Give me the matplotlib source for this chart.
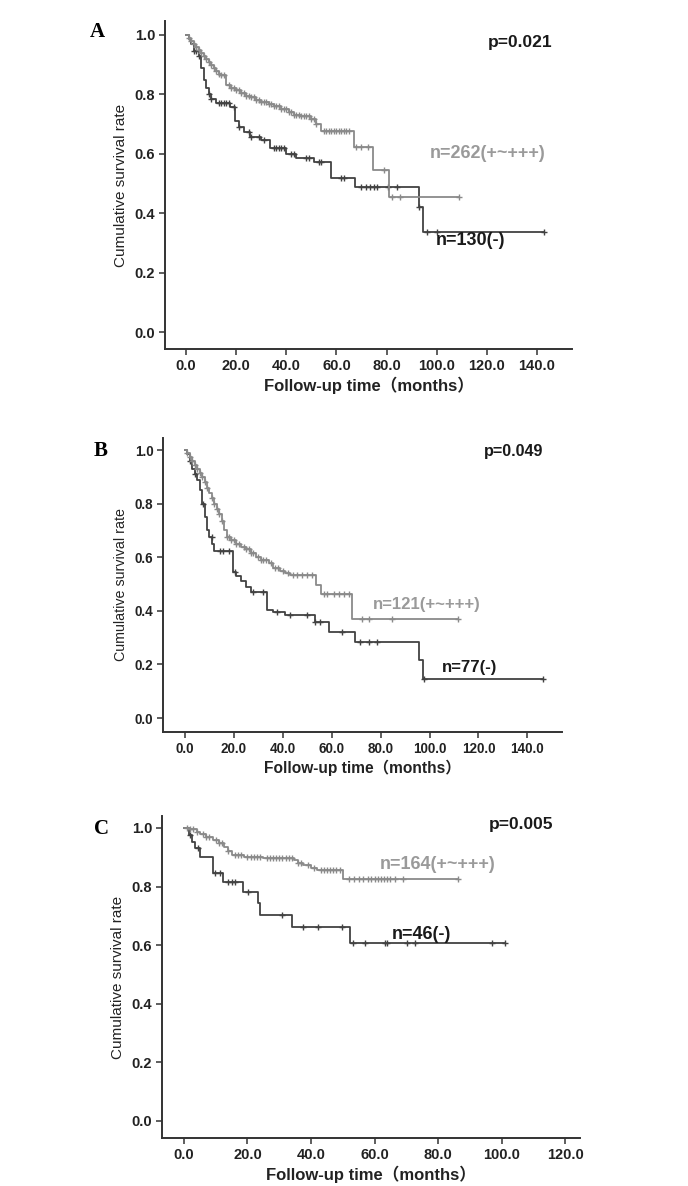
import numpy as np
import matplotlib
matplotlib.use("Agg")
import matplotlib.pyplot as plt
from matplotlib.ticker import FormatStrFormatter

plt.rcParams['font.family'] = ['Liberation Sans', 'Noto Sans CJK SC']

# ---- Panel A: KM steps (time in months, survival after the step) ----
a_hi_t = [0, 1, 2, 3, 4, 5, 6, 7, 8, 9, 10, 11, 12, 13, 14, 16, 18, 20, 22, 24, 26, 28, 30, 33, 35, 38,
          41, 43, 46, 50, 52, 54, 67, 74.5, 81]
a_hi_s = [1.0, 0.99, 0.98, 0.97, 0.96, 0.95, 0.94, 0.93, 0.92, 0.91, 0.90, 0.89, 0.88, 0.87, 0.865, 0.83,
          0.822, 0.815, 0.805, 0.795, 0.79, 0.782, 0.775, 0.768, 0.762, 0.75, 0.74, 0.732, 0.727, 0.718,
          0.70, 0.678, 0.624, 0.545, 0.455]
a_hi_end = 109
a_hi_cens = [1, 2, 3, 4, 5, 6, 7, 8, 9, 10, 11, 12, 13, 14, 15, 17, 18, 19, 20, 21, 22, 23, 24, 25, 26, 27,
             28, 29, 30, 31, 32, 33, 34, 35, 36, 37, 38, 39, 40, 41, 42, 43, 44, 45, 46, 47, 48, 49, 50, 51,
             52, 55, 56, 57, 58, 59, 60, 61, 62, 63, 64, 65, 68, 70, 72.5, 78.8, 82, 85.5, 109]

a_lo_t = [0, 1, 2, 3, 5, 6, 7, 8, 9, 10, 12, 17.5, 19.5, 21, 23, 25.5, 30, 33.5, 40, 44, 51, 58, 67.5,
          93, 94.5]
a_lo_s = [1.0, 0.985, 0.97, 0.945, 0.93, 0.89, 0.85, 0.82, 0.80, 0.785, 0.77, 0.758, 0.71, 0.69, 0.674,
          0.658, 0.646, 0.618, 0.60, 0.585, 0.572, 0.517, 0.489, 0.42, 0.336]
a_lo_end = 142.7
a_lo_cens = [3, 4, 5, 9, 10, 13, 14, 15, 16, 17, 19, 21, 25, 26, 29, 31, 35, 36, 37, 38, 39, 42, 43, 48, 49,
             53, 54, 62, 63, 70, 72, 73.5, 75, 76, 80.6, 84, 93.1, 96, 100, 142.7]

# ---- Panel B ----
b_hi_t = [0, 1, 2, 3, 4, 5, 6, 7, 8, 9, 10, 11, 12, 13, 14, 15, 16, 17, 19, 21, 23, 25, 27, 29, 31, 34.5,
          36, 39, 41, 43, 53.5, 55.5, 68.5]
b_hi_s = [1.0, 0.99, 0.975, 0.96, 0.945, 0.93, 0.915, 0.90, 0.88, 0.86, 0.84, 0.82, 0.80, 0.78, 0.76,
          0.735, 0.70, 0.677, 0.665, 0.65, 0.64, 0.63, 0.615, 0.60, 0.59, 0.578, 0.56, 0.55, 0.54, 0.534,
          0.496, 0.463, 0.369]
b_hi_end = 111.8
b_hi_cens = [1, 2, 3, 4, 5, 6, 7, 8, 9, 11, 12, 13, 14, 15, 17, 18, 19, 20, 21, 22, 24, 25, 26, 27, 28, 30,
             31, 32, 33, 35, 37, 38, 40, 42, 44, 46, 48, 50, 52, 57, 58, 60.8, 62.8, 64.9, 66.9, 72.4, 75.1,
             84.7, 111.8]

b_lo_t = [0, 1, 2, 3, 4, 5, 6, 7, 8, 9, 10, 11, 12, 19.5, 21, 23, 25, 27, 33.5, 36, 41, 53, 59, 69.5,
          95.8, 97.2]
b_lo_s = [1.0, 0.985, 0.96, 0.93, 0.91, 0.89, 0.85, 0.80, 0.75, 0.70, 0.675, 0.65, 0.622, 0.546, 0.53,
          0.51, 0.49, 0.472, 0.403, 0.395, 0.384, 0.357, 0.322, 0.285, 0.216, 0.144]
b_lo_end = 146.5
b_lo_cens = [2, 4, 7.5, 10.9, 14.3, 15.7, 17.8, 20.5, 28, 31.8, 37.6, 43, 49.9, 53.3, 55.3, 64.2, 71.7,
             75.1, 78.5, 97.9, 146.5]

# ---- Panel C ----
c_hi_t = [0, 2, 4, 5, 7, 9, 11, 12.5, 14, 15, 19, 25, 34.5, 36, 37.5, 40, 42, 50]
c_hi_s = [1.0, 0.995, 0.985, 0.978, 0.968, 0.958, 0.948, 0.936, 0.922, 0.908, 0.902, 0.897, 0.89, 0.882,
          0.874, 0.865, 0.857, 0.825]
c_hi_end = 86.4
c_hi_cens = [1, 2, 3, 4, 6, 7, 8, 10, 11, 12, 14, 16, 17, 18, 20, 21, 22, 23, 24, 26, 27, 28, 29, 30, 31,
             32, 33, 34, 36, 37, 39, 41, 43, 44, 45, 46, 47, 48, 49, 52, 53.5, 55, 56.5, 58, 59, 60, 61, 62,
             63, 64, 65, 66.5, 69, 86.4]

c_lo_t = [0, 1.5, 2.5, 3.5, 5, 9.2, 12.4, 18.7, 23.4, 23.9, 33.9, 52.3]
c_lo_s = [1.0, 0.976, 0.953, 0.93, 0.902, 0.848, 0.817, 0.783, 0.743, 0.703, 0.663, 0.606]
c_lo_end = 101.1
c_lo_cens = [2, 4.5, 9.8, 11.3, 14, 15, 16.1, 20.3, 30.8, 37.6, 42.3, 49.7, 53.3, 57, 63.3, 63.8, 70.1,
             72.8, 96.9, 101.1]

p_values = ["p=0.021", "p=0.049", "p=0.005"]
hi_labels = ["n=262(+~+++)", "n=121(+~+++)", "n=164(+~+++)"]
lo_labels = ["n=130(-)", "n=77(-)", "n=46(-)"]
panel_letters = ["A", "B", "C"]

GRAY = '#8a8a8a'
DARK = '#424242'


def km_line(ax, t, s, t_end, cens, color):
    tt = np.asarray(t + [t_end], dtype=float)
    ss = np.asarray(s + [s[-1]], dtype=float)
    ax.step(tt, ss, where='post', color=color, lw=1.3)
    c = np.asarray(cens, dtype=float)
    idx = np.searchsorted(tt, c, side='right') - 1
    ax.plot(c, ss[idx], ls='none', marker='+', ms=5, mew=1.0, color=color)


fig = plt.figure(figsize=(6.88, 11.86), dpi=100)

# axes rects in figure fraction, x/y limits per panel
rects = [[0.2398, 0.7057, 0.5916, 0.2766],
         [0.2369, 0.3828, 0.5800, 0.2479],
         [0.2355, 0.0405, 0.6076, 0.2715]]
xlims = [(-8.4, 154), (-9.0, 154.2), (-6.9, 124.7)]
ylims = [(-0.057, 1.047), (-0.052, 1.045), (-0.058, 1.041)]
xtick_max = [140, 140, 120]
fscale = [1.0, 0.93, 1.0]
p_pos = [(146.1, 0.976), (146.4, 0.996), (116.2, 1.013)]
hi_pos = [(97.4, 0.60), (76.9, 0.425), (61.7, 0.877)]
lo_pos = [(99.8, 0.307), (105.1, 0.19), (65.4, 0.638)]
letter_pos = [(0.142, 0.973), (0.146, 0.620), (0.148, 0.301)]

curves = [
    ((a_hi_t, a_hi_s, a_hi_end, a_hi_cens), (a_lo_t, a_lo_s, a_lo_end, a_lo_cens)),
    ((b_hi_t, b_hi_s, b_hi_end, b_hi_cens), (b_lo_t, b_lo_s, b_lo_end, b_lo_cens)),
    ((c_hi_t, c_hi_s, c_hi_end, c_hi_cens), (c_lo_t, c_lo_s, c_lo_end, c_lo_cens)),
]

for i in range(3):
    ax = fig.add_axes(rects[i])
    fs = fscale[i]
    hi, lo = curves[i]
    km_line(ax, *lo, DARK)
    km_line(ax, *hi, GRAY)

    ax.set_xlim(*xlims[i])
    ax.set_ylim(*ylims[i])
    ax.set_xticks(np.arange(0, xtick_max[i] + 1, 20))
    ax.set_yticks(np.arange(0, 1.01, 0.2))
    ax.xaxis.set_major_formatter(FormatStrFormatter('%.1f'))
    ax.yaxis.set_major_formatter(FormatStrFormatter('%.1f'))
    for side in ['top', 'right']:
        ax.spines[side].set_visible(False)
    for side in ['left', 'bottom']:
        ax.spines[side].set_linewidth(1.4)
        ax.spines[side].set_color('#333333')
    ax.tick_params(direction='out', length=4, width=1.1, color='#333333',
                   labelsize=10.5 * fs, labelcolor='#222222', pad=3)
    for lab in ax.get_xticklabels() + ax.get_yticklabels():
        lab.set_fontweight('bold')

    ax.set_xlabel("Follow-up time（months）", fontsize=12 * fs, fontweight='bold',
                  color='#222222', labelpad=3)
    ax.set_ylabel("Cumulative survival rate", fontsize=11 * fs, color='#222222', labelpad=5)

    ax.text(*p_pos[i], p_values[i], ha='right', va='center', fontsize=12.5 * fs,
            fontweight='bold', color='#1a1a1a')
    ax.text(*hi_pos[i], hi_labels[i], ha='left', va='center', fontsize=13 * fs,
            fontweight='bold', color='#9a9a9a')
    ax.text(*lo_pos[i], lo_labels[i], ha='left', va='center', fontsize=13 * fs,
            fontweight='bold', color='#1a1a1a')

    fig.text(*letter_pos[i], panel_letters[i], ha='center', va='center', fontsize=15,
             fontweight='bold', family='Liberation Serif')

fig.savefig("out.png", dpi=100, facecolor='white')
